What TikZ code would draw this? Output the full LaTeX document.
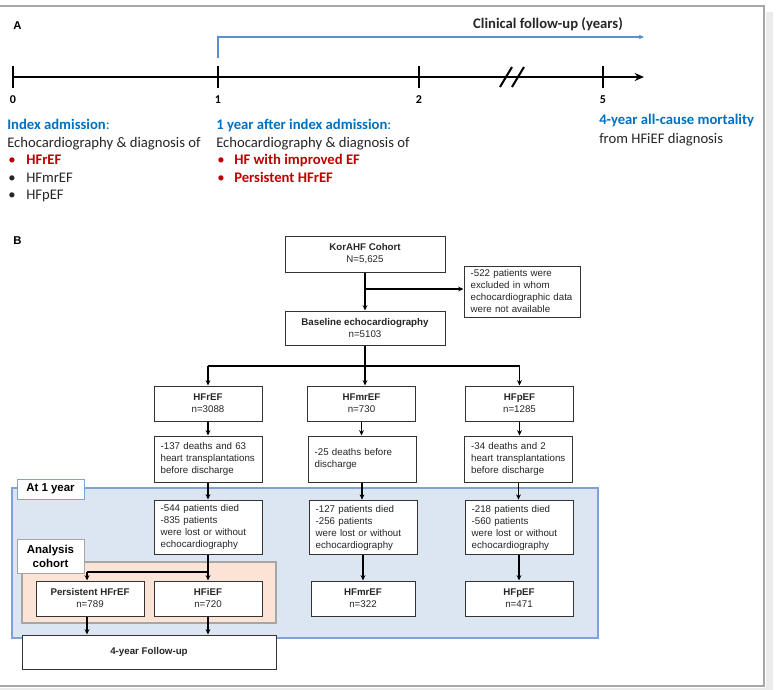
\documentclass[tikz,border=0pt]{standalone}
\usepackage{fontspec}
\setmainfont{Carlito}
\newfontfamily\arialf{Liberation Sans}
\usetikzlibrary{arrows.meta}
\definecolor{txt}{HTML}{262626}
\definecolor{hblue}{HTML}{0070C0}
\definecolor{lblue}{HTML}{5B8FD0}
\definecolor{hred}{HTML}{C00000}
\definecolor{regblue}{HTML}{DCE6F2}
\definecolor{regblueb}{HTML}{7FA3D6}
\definecolor{regor}{HTML}{FBE4D5}
\definecolor{regorb}{HTML}{A6A6A6}
\definecolor{framec}{HTML}{A6A6A6}
\begin{document}
\begin{tikzpicture}[x=0.75pt,y=-0.75pt,
  tl/.style={font=\fontsize{11}{13}\selectfont, text=txt, anchor=base west, inner sep=0},
  tnum/.style={font=\bfseries\fontsize{9}{11}\selectfont, text=black, anchor=base, inner sep=0},
  plabel/.style={font=\arialf\bfseries\fontsize{8.5}{10}\selectfont, anchor=base west, inner sep=0},
  fbox/.style={draw=black!80, line width=0.75pt, fill=white, inner sep=0, align=center,
    font=\arialf\fontsize{7.3}{9}\selectfont, text=black!85},
  nbox/.style={fbox, align=left, text width=71pt, inner xsep=5pt},
  arr/.style={-{Stealth[length=4pt,width=3.6pt]}, line width=0.9pt},
  ln/.style={line width=0.9pt},
  rlabel/.style={draw, line width=0.75pt, fill=white, inner sep=0, align=center,
    font=\arialf\bfseries\fontsize{8.6}{10.5}\selectfont, minimum width=50.25pt}
]
\useasboundingbox (0,0) rectangle (776,690);
% frame and shadow
\fill[black!8] (766,12) rectangle (773,690);
\fill[black!8] (0,688) rectangle (773,690);
\draw[framec, line width=1.4pt] (0,6) -- (764,6) -- (764,686) -- (0,686);

% ---------------- Part A ----------------
\node[plabel] (labA) at (13,29) {A};
\node[font=\bfseries\fontsize{11}{13}\selectfont, text=txt, anchor=base, inner sep=0] (cfu) at (548,28) {Clinical follow-up (years)};
\coordinate (bs) at (218,58);
\coordinate (bc) at (218,37);
\coordinate (be) at (644,37);
\draw[lblue, line width=0.9pt, -{Stealth[length=4pt,width=3.5pt]}] (bs) -- (bc) -- (be);

\coordinate (t0) at (13,77);
\coordinate (tend) at (644,77);
\draw[line width=1.5pt, -{Stealth[length=7pt,width=6pt]}] (t0) -- (tend);
\foreach \x/\n in {13/0,218/1,419/2,603/5}{
  \draw[line width=1.5pt] (\x,66) -- (\x,88);
  \node[tnum] (num\n) at (\x,103) {\n};
}
\draw[line width=1.5pt] (500,87) -- (512,67);
\draw[line width=1.5pt] (512,87) -- (524,67);

\node[tl] (ia) at (7,129) {\textcolor{hblue}{\bfseries Index admission}\textcolor{hblue}{:}};
\node[tl] (ia2) at (7,147) {Echocardiography \& diagnosis of};
\node[tl] (ib1) at (8,164) {\textcolor{hred}{•}};
\node[tl] (ib1t) at (26,164) {\textcolor{hred}{\bfseries HFrEF}};
\node[tl] (ib2) at (8,182) {•};
\node[tl] (ib2t) at (26,182) {HFmrEF};
\node[tl] (ib3) at (8,199) {•};
\node[tl] (ib3t) at (26,199) {HFpEF};

\node[tl] (ya) at (216,129) {\textcolor{hblue}{\bfseries 1 year after index admission}\textcolor{hblue}{:}};
\node[tl] (ya2) at (216,147) {Echocardiography \& diagnosis of};
\node[tl] (yb1) at (217,164) {\textcolor{hred}{•}};
\node[tl] (yb1t) at (234,164) {\textcolor{hred}{\bfseries HF with improved EF}};
\node[tl] (yb2) at (217,182) {\textcolor{hred}{•}};
\node[tl] (yb2t) at (234,182) {\textcolor{hred}{\bfseries Persistent HFrEF}};

\node[tl] (ma) at (599,124) {\textcolor{hblue}{\bfseries 4-year all-cause mortality}};
\node[tl] (ma2) at (599,143) {from HFiEF diagnosis};

% ---------------- Part B ----------------
\node[plabel] (labB) at (13,244) {B};

% regions
\fill[regblue] (12,488) rectangle (598,638);
\draw[regblueb, line width=0.8pt] (12,488) rectangle (598,638);
\fill[regor] (22,562) rectangle (276,623);
\draw[regorb, line width=0.8pt] (22,562) rectangle (276,623);
\node[rlabel, draw=regblueb, minimum height=15pt] (at1) at (50.5,489) {At 1 year};
\node[rlabel, draw=regorb, minimum height=25.5pt] (anc) at (50.5,556) {Analysis\\cohort};

% boxes
\node[fbox, minimum width=120pt, minimum height=27pt] (kor) at (365,254) {\textbf{KorAHF Cohort}\\N=5,625};
\node[fbox, align=left, text width=77pt, inner xsep=5pt, minimum height=38.25pt] (excl) at (522,291.5) {-522 patients were\\excluded in whom\\echocardiographic data\\were not available};
\node[fbox, minimum width=120pt, minimum height=25.5pt] (base) at (365,328) {\textbf{Baseline echocardiography}\\n=5103};

\node[fbox, minimum width=81pt, minimum height=26.25pt] (hfr) at (208,403.5) {\textbf{HFrEF}\\n=3088};
\node[fbox, minimum width=81pt, minimum height=26.25pt] (hfm) at (361.5,403.5) {\textbf{HFmrEF}\\n=730};
\node[fbox, minimum width=81pt, minimum height=26.25pt] (hfp) at (519.5,403.5) {\textbf{HFpEF}\\n=1285};

\node[nbox, minimum height=34.5pt] (d1) at (208,459) {-137 deaths and 63\\heart transplantations\\before discharge};
\node[nbox, minimum height=34.5pt] (d2) at (362,459) {-25 deaths before\\discharge};
\node[nbox, minimum height=34.5pt] (d3) at (518.5,459) {-34 deaths and 2\\heart transplantations\\before discharge};

\node[nbox, minimum height=40.5pt] (y1) at (208,527) {-544 patients died\\-835 patients\\were lost or without\\echocardiography};
\node[nbox, minimum height=41pt] (y2) at (363,527.5) {-127 patients died\\-256 patients\\were lost or without\\echocardiography};
\node[nbox, minimum height=41pt] (y3) at (519,527.5) {-218 patients died\\-560 patients\\were lost or without\\echocardiography};

\node[fbox, minimum width=81pt, minimum height=26.25pt] (per) at (90,598.5) {\textbf{Persistent HFrEF}\\n=789};
\node[fbox, minimum width=81pt, minimum height=26.25pt] (hfi) at (208,598.5) {\textbf{HFiEF}\\n=720};
\node[fbox, minimum width=78pt, minimum height=26.25pt] (fm) at (363,598.5) {\textbf{HFmrEF}\\n=322};
\node[fbox, minimum width=81pt, minimum height=26.25pt] (fp) at (519,598.5) {\textbf{HFpEF}\\n=471};

\node[fbox, minimum width=190.5pt, minimum height=25.5pt, font=\arialf\bfseries\fontsize{7.3}{9}\selectfont] (fu) at (149,652) {4-year Follow-up};

% connectors
\coordinate (br) at (365,289);
\draw[arr] (kor.south) -- (base.north);
\draw[arr] (br) -- (br -| excl.west);
\coordinate (sp) at (365,366);
\draw[ln] (base.south) -- (sp);
\draw[ln] (hfr.north |- sp) -- (hfp.north |- sp);
\draw[arr] (hfr.north |- sp) -- (hfr.north);
\draw[arr] (sp) -- (sp |- hfm.north);
\draw[arr] (hfp.north |- sp) -- (hfp.north);

\draw[arr] (hfr.south) -- (d1.north);
\draw[arr] (hfm.south) -- (hfm.south |- d2.north);
\draw[arr] (hfp.south) -- (hfp.south |- d3.north);
\draw[arr] (d1.south) -- (y1.north);
\draw[arr] (d2.south) -- (d2.south |- y2.north);
\draw[arr] (d3.south) -- (d3.south |- y3.north);

\coordinate (sp2) at (208,572);
\coordinate (spl) at (87,572);
\draw[ln] (y1.south) -- (sp2) -- (spl);
\draw[arr] (spl) -- (spl |- per.north);
\draw[arr] (sp2) -- (hfi.north);
\draw[arr] (y2.south) -- (y2.south |- fm.north);
\draw[arr] (y3.south) -- (y3.south |- fp.north);

\draw[arr] (spl |- per.south) -- (spl |- fu.north);
\draw[arr] (hfi.south) -- (hfi.south |- fu.north);
\end{tikzpicture}
\end{document}
